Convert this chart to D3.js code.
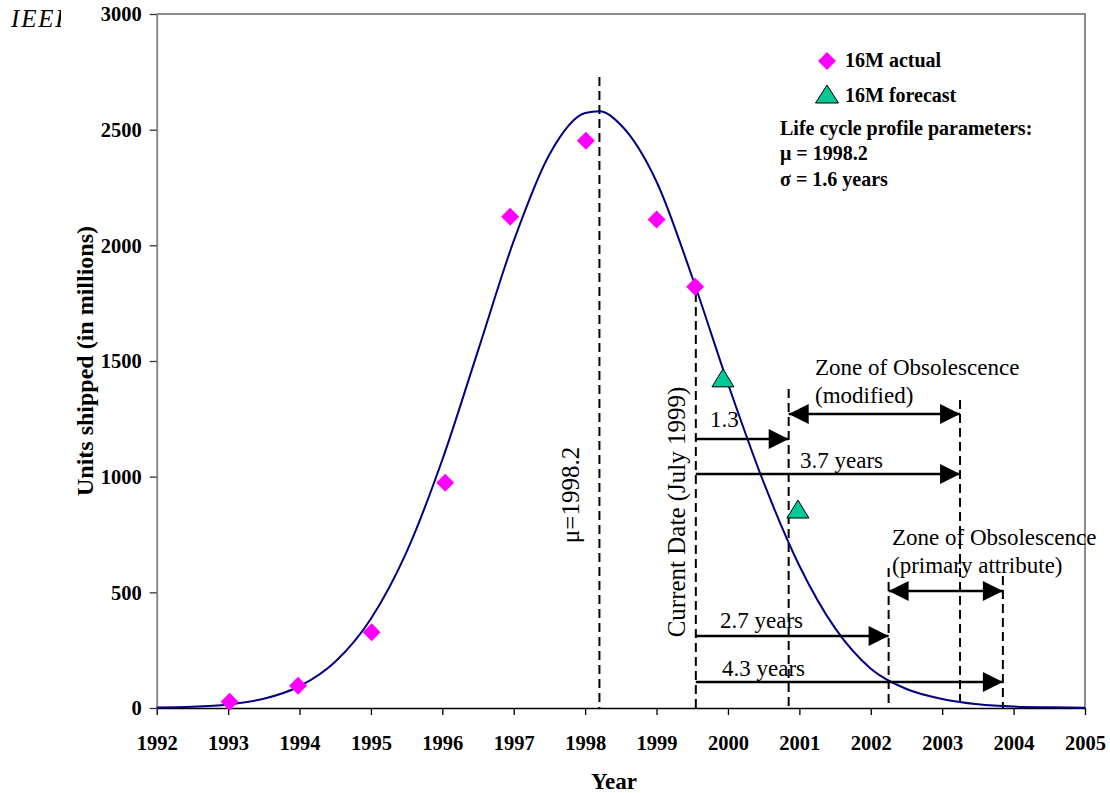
<!DOCTYPE html>
<html>
<head>
<meta charset="utf-8">
<script src="https://cdn.jsdelivr.net/npm/d3@7"></script>
<style>
  html, body { margin: 0; padding: 0; background: #fff; }
  svg { display: block; }
  text { font-family: "Liberation Serif", "Times New Roman", serif; fill: #000; }
</style>
</head>
<body>
<svg id="chart" width="1110" height="793"></svg>
<script>
// Fitted life-cycle profile (units shipped, millions)
const profileYears  = [1992, 1992.5, 1993, 1993.5, 1994, 1994.5, 1995, 1995.5, 1996, 1996.5, 1997, 1997.5, 1998, 1998.2, 1998.5, 1999, 1999.5, 2000, 2000.5, 2001, 2001.5, 2002, 2002.5, 2003, 2003.5, 2004, 2004.5, 2005];
const profileValues = [2, 5, 15, 40, 94, 200, 386, 675, 1073, 1545, 2019, 2393, 2572, 2580, 2520, 2275, 1862, 1402, 975, 615, 345, 170, 82, 39, 16, 6, 3, 1];

// 16M actual shipments
const actualYears  = [1993.02, 1993.98, 1995.01, 1996.04, 1996.95, 1998.01, 1999.0, 1999.54];
const actualValues = [27, 96, 327, 974, 2124, 2452, 2112, 1821];

// 16M forecast
const forecastYears  = [1999.93, 2000.98];
const forecastValues = [1427, 860];

// Axis ticks
const xTicks = [1992, 1993, 1994, 1995, 1996, 1997, 1998, 1999, 2000, 2001, 2002, 2003, 2004, 2005];
const yTicks = [0, 500, 1000, 1500, 2000, 2500, 3000];

// Life-cycle parameters and obsolescence spans (years)
const mu = 1998.2;
const currentDate = 1999.55;
const spanModifiedStart = 1.3;
const spanModifiedEnd = 3.7;
const spanPrimaryStart = 2.7;
const spanPrimaryEnd = 4.3;

const svg = d3.select("#chart");

// page header, partly hidden behind the chart area
svg.append("text").attr("x", 11).attr("y", 27)
  .style("font-style", "italic").style("font-size", "25px").style("letter-spacing", "1.8px").text("IEEE");
svg.append("rect").attr("x", 61).attr("y", 0).attr("width", 1049).attr("height", 793).attr("fill", "#fff");

const plotLeft = 156.7, plotRight = 1085, plotTop = 14, plotBottom = 708;
const x = d3.scaleLinear().domain([1992, 2005]).range([plotLeft, plotRight]);
const y = d3.scaleLinear().domain([0, 3000]).range([plotBottom, plotTop]);

// plot frame (top and right)
svg.append("path")
  .attr("d", `M${plotLeft},${plotTop}H${plotRight}V${plotBottom}`)
  .attr("fill", "none").attr("stroke", "#8c8c8c").attr("stroke-width", 2);

// axes
const gx = svg.append("g").attr("transform", `translate(0,${plotBottom})`)
  .call(d3.axisBottom(x).tickValues(xTicks).tickFormat(d3.format("d")).tickSize(7).tickSizeOuter(0));
gx.attr("font-family", null);
gx.select(".domain").attr("stroke", "#000").attr("stroke-width", 1.6);
gx.selectAll(".tick line").attr("stroke", "#000").attr("stroke-width", 1.3);
gx.selectAll(".tick text").attr("y", 42).attr("dy", null)
  .style("font-family", "'Liberation Serif', serif").style("font-size", "20.5px").style("font-weight", "bold");

const gy = svg.append("g").attr("transform", `translate(${plotLeft},0)`)
  .call(d3.axisLeft(y).tickValues(yTicks).tickFormat(d3.format("d")).tickSize(7).tickPadding(8).tickSizeOuter(0));
gy.attr("font-family", null);
gy.select(".domain").attr("stroke", "#8c8c8c").attr("stroke-width", 2);
gy.selectAll(".tick line").attr("stroke", "#333").attr("stroke-width", 1.3);
gy.selectAll(".tick text").attr("dy", "0.34em")
  .style("font-family", "'Liberation Serif', serif").style("font-size", "20.5px").style("font-weight", "bold");

// axis titles
svg.append("text").attr("x", 614).attr("y", 789).attr("text-anchor", "middle")
  .style("font-size", "23px").style("font-weight", "bold").text("Year");
svg.append("text").attr("transform", "translate(93,361) rotate(-90)").attr("text-anchor", "middle")
  .style("font-size", "24px").style("font-weight", "bold").text("Units shipped (in millions)");

// dashed reference lines
const dashed = (xv, yTopVal) => svg.append("line")
  .attr("x1", x(xv)).attr("x2", x(xv)).attr("y1", y(yTopVal)).attr("y2", y(0))
  .attr("stroke", "#000").attr("stroke-width", 2).attr("stroke-dasharray", "9,5");

dashed(mu, 2728);
dashed(currentDate, 1794);
dashed(currentDate + spanModifiedStart, 1379);
dashed(currentDate + spanModifiedEnd, 1331);
dashed(currentDate + spanPrimaryStart, 605);
dashed(currentDate + spanPrimaryEnd, 571);

// life-cycle curve
const line = d3.line().x(d => x(d[0])).y(d => y(d[1])).curve(d3.curveMonotoneX);
svg.append("path").datum(d3.zip(profileYears, profileValues))
  .attr("d", line).attr("fill", "none").attr("stroke", "#000080").attr("stroke-width", 2);

// markers
const diamond = (cx, cy, r) => `M${cx},${cy - r}L${cx + r},${cy}L${cx},${cy + r}L${cx - r},${cy}Z`;
const triangle = (cx, cy, w, h) => `M${cx},${cy - h / 2}L${cx + w / 2},${cy + h / 2}L${cx - w / 2},${cy + h / 2}Z`;

svg.append("g").selectAll("path").data(d3.zip(actualYears, actualValues)).join("path")
  .attr("d", d => diamond(x(d[0]), y(d[1]), 9)).attr("fill", "#ff00ff");

svg.append("g").selectAll("path").data(d3.zip(forecastYears, forecastValues)).join("path")
  .attr("d", d => triangle(x(d[0]), y(d[1]), 22, 18))
  .attr("fill", "#00c896").attr("stroke", "#000").attr("stroke-width", 1);

// arrows
function arrow(x1, x2, yv, headStart, headEnd) {
  const py = y(yv), a = x(x1), b = x(x2), L = 20, H = 10;
  const g = svg.append("g");
  g.append("line").attr("x1", a).attr("x2", b).attr("y1", py).attr("y2", py)
    .attr("stroke", "#000").attr("stroke-width", 2.5);
  if (headEnd) g.append("path").attr("d", `M${b},${py}L${b - L},${py - H}L${b - L},${py + H}Z`).attr("fill", "#000");
  if (headStart) g.append("path").attr("d", `M${a},${py}L${a + L},${py - H}L${a + L},${py + H}Z`).attr("fill", "#000");
}
arrow(currentDate + spanModifiedStart, currentDate + spanModifiedEnd, 1271, true, true);
arrow(currentDate, currentDate + spanModifiedStart, 1163, false, true);
arrow(currentDate, currentDate + spanModifiedEnd, 1012, false, true);
arrow(currentDate + spanPrimaryStart, currentDate + spanPrimaryEnd, 506, true, true);
arrow(currentDate, currentDate + spanPrimaryStart, 311, false, true);
arrow(currentDate, currentDate + spanPrimaryEnd, 112, false, true);

// annotation text
const note = (tx, ty, s, size) => svg.append("text").attr("x", tx).attr("y", ty)
  .style("font-size", (size || 23) + "px").text(s);
note(710, 427, spanModifiedStart.toFixed(1));
note(800, 468, spanModifiedEnd.toFixed(1) + " years");
note(720, 628, spanPrimaryStart.toFixed(1) + " years");
note(722, 676, spanPrimaryEnd.toFixed(1) + " years");
note(815, 375, "Zone of Obsolescence");
note(815, 403, "(modified)");
note(892, 545, "Zone of Obsolescence");
note(892, 573, "(primary attribute)");

svg.append("text").attr("transform", `translate(579,495) rotate(-90)`).attr("text-anchor", "middle")
  .style("font-size", "25px").text("\u03bc=" + mu);
svg.append("text").attr("transform", `translate(685,512) rotate(-90)`).attr("text-anchor", "middle")
  .style("font-size", "25px").text("Current Date (July 1999)");

// legend and parameters
svg.append("path").attr("d", diamond(827, 61, 9)).attr("fill", "#ff00ff");
svg.append("path").attr("d", triangle(827, 94, 23, 18)).attr("fill", "#00c896").attr("stroke", "#000").attr("stroke-width", 1);
const bold = (tx, ty, s) => svg.append("text").attr("x", tx).attr("y", ty)
  .style("font-size", "20px").style("font-weight", "bold").text(s);
bold(845, 67, "16M actual");
bold(845, 102, "16M forecast");
bold(780, 135, "Life cycle profile parameters:");
bold(780, 160, "\u03bc = " + mu);
bold(780, 186, "\u03c3 = 1.6 years");
</script>
</body>
</html>
